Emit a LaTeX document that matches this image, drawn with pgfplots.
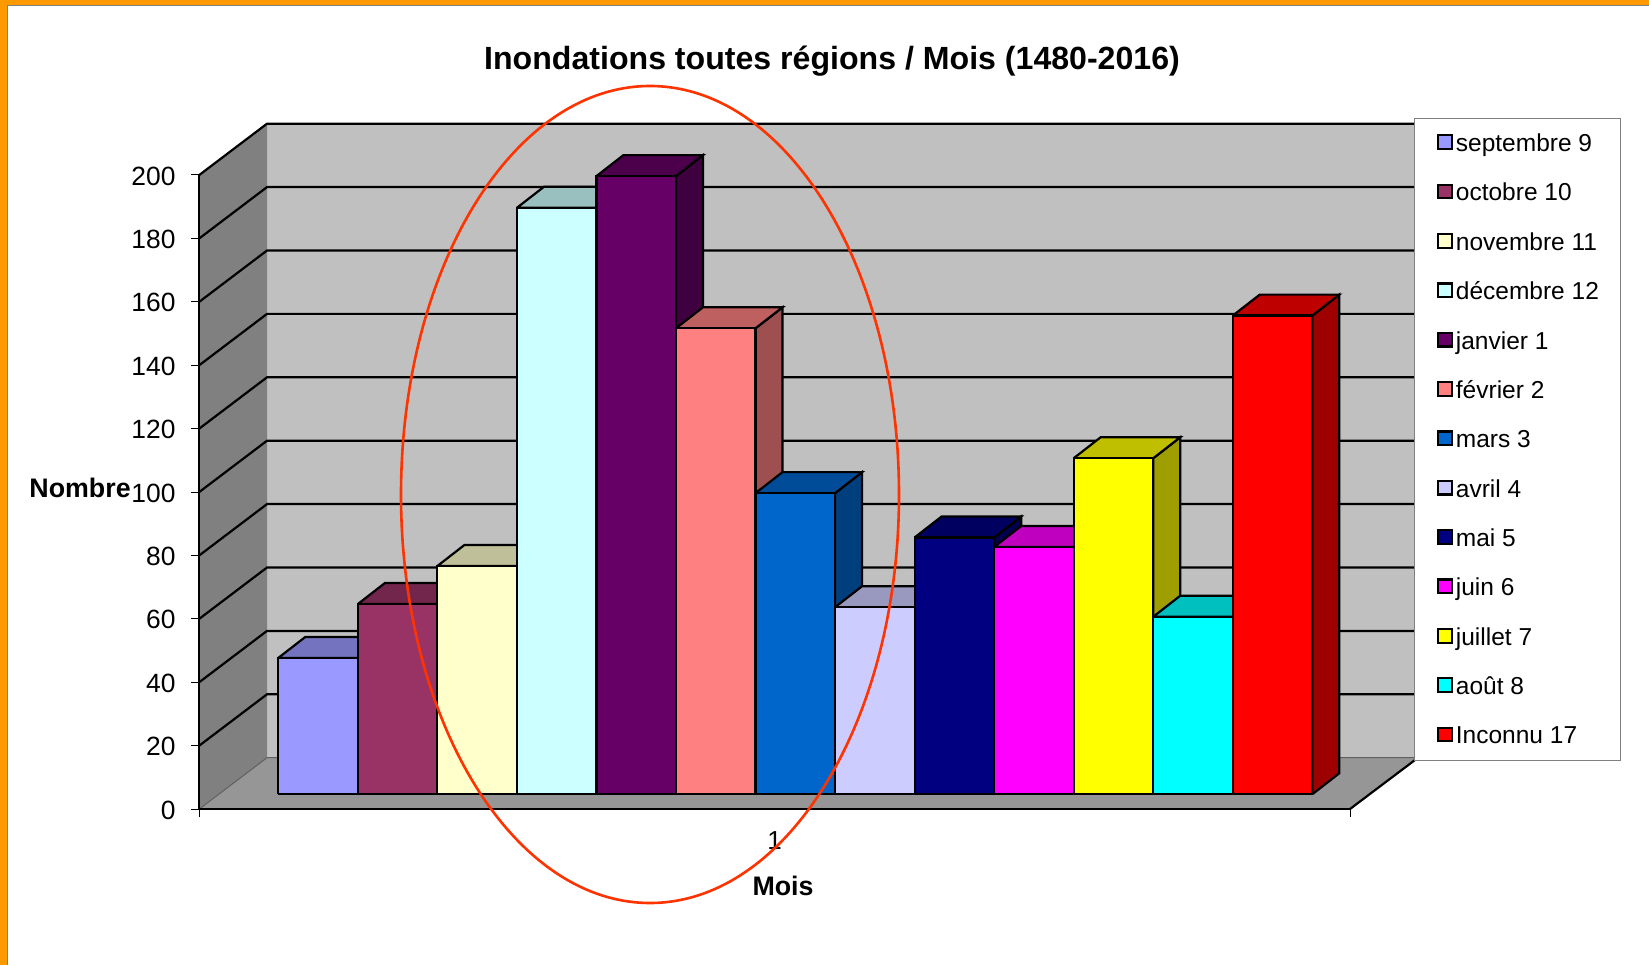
\documentclass[border=0pt]{standalone}
\usepackage{fontspec}
\setmainfont{Liberation Sans}
\usepackage{pgfplots}
\pgfplotsset{compat=1.18}
\definecolor{c0}{HTML}{9999FF}
\definecolor{c1}{HTML}{993366}
\definecolor{c2}{HTML}{FFFFCC}
\definecolor{c3}{HTML}{CCFFFF}
\definecolor{c4}{HTML}{660066}
\definecolor{c5}{HTML}{FF8080}
\definecolor{c6}{HTML}{0066CC}
\definecolor{c7}{HTML}{CCCCFF}
\definecolor{c8}{HTML}{000080}
\definecolor{c9}{HTML}{FF00FF}
\definecolor{c10}{HTML}{FFFF00}
\definecolor{c11}{HTML}{00FFFF}
\definecolor{c12}{HTML}{FF0000}
\definecolor{wallback}{HTML}{C0C0C0}
\definecolor{wallleft}{HTML}{808080}
\definecolor{wallfloor}{HTML}{969696}
\definecolor{frameorange}{HTML}{FF9900}
\definecolor{ringred}{HTML}{FF3300}
\newcommand{\dX}{0.3395}
\newcommand{\dY}{6.62}
\newcommand{\bY}{4.65}
\newcommand{\BarTD}[4]{%
  \pgfmathsetmacro\xa{#1}%
  \pgfmathsetmacro\xb{#1+1}%
  \pgfmathsetmacro\xc{#1+1+\dX}%
  \pgfmathsetmacro\xd{#1+\dX}%
  \pgfmathsetmacro\ya{\bY}%
  \pgfmathsetmacro\yb{\bY+#2}%
  \pgfmathsetmacro\yc{\bY+#2+\dY}%
  \pgfmathsetmacro\yd{\bY+\dY}%
  \edef\tmp{\noexpand\addplot[forget plot,draw=black,line width=1.1pt,fill=#3!62!black] coordinates {(\xb,\ya)(\xc,\yd)(\xc,\yc)(\xb,\yb)(\xb,\ya)};}\tmp
  \edef\tmp{\noexpand\addplot[forget plot,draw=black,line width=1.1pt,fill=#3!75!black] coordinates {(\xa,\yb)(\xb,\yb)(\xc,\yc)(\xd,\yc)(\xa,\yb)};}\tmp
  \edef\tmp{\noexpand\addplot[draw=black,line width=1.1pt,fill=#3] coordinates {(\xa,\ya)(\xb,\ya)(\xb,\yb)(\xa,\yb)(\xa,\ya)};}\tmp
  \addlegendentry{#4}%
}
\begin{document}
\begin{tikzpicture}
\useasboundingbox (0,0) rectangle (824.5pt,482.5pt);
\begin{scope}[shift={(0,482.5pt)},x=0.5pt,y=-0.5pt]
  \fill[white] (0,0) rectangle (1649,965);
  \fill[frameorange] (0,0) rectangle (1649,5.5);
  \fill[frameorange] (0,0) rectangle (7.2,965);
  \draw[gray,line width=0.4pt] (7.6,965) -- (7.6,5.9) -- (1649,5.9);
  % walls
  \fill[wallback] (267,123.7) rectangle (1416,757.7);
  \fill[wallleft] (199.3,175) -- (267,123.7) -- (267,757.7) -- (199.3,809) -- cycle;
  \fill[wallfloor] (199.3,809) -- (267,757.7) -- (1418,757.7) -- (1350,809) -- cycle;
  \draw[gray!75!black,line width=0.5pt] (199.3,809) -- (267,757.7) -- (1416,757.7);
  \foreach \v in {20,40,...,200}{
    \pgfmathsetmacro\ya{809-3.17*\v}
    \pgfmathsetmacro\yb{757.7-3.17*\v}
    \draw[black,line width=1.1pt] (199.3,\ya) -- (267,\yb) -- (1416,\yb);
  }
  \draw[black,line width=1.1pt] (1350,809) -- (1418,757.7);
\end{scope}
\begin{axis}[
  at={(99.65pt,78pt)},anchor=south west,
  scale only axis,width=575.35pt,height=317pt,
  xmin=-0.9932,xmax=13.474,ymin=0,ymax=200,
  clip=false,
  axis x line=bottom,axis y line=left,
  axis line style={-,line width=1.1pt,black},
  tick align=outside,major tick length=4pt,
  every tick/.style={black,line width=0.5pt},
  xtick={-0.9932,13.474},xticklabels={,},
  extra x ticks={6.24},extra x tick labels={1},
  extra x tick style={major tick length=0pt},
  ytick={0,20,...,200},
  /pgf/number format/assume math mode=true,
  tick label style={font=\fontsize{13.2pt}{15pt}\selectfont,black},
  yticklabel style={inner sep=0pt,xshift=-7.7pt,yshift=-0.5pt},
  xticklabel style={font=\fontsize{13pt}{15pt}\selectfont,yshift=-8pt},
  xlabel={Mois},ylabel={Nombre},
  every axis x label/.style={at={(axis description cs:0.5073,-0.1207)},anchor=center,font=\fontsize{13.4pt}{15pt}\selectfont\bfseries},
  every axis y label/.style={at={(axis description cs:-0.1036,0.506)},anchor=center,rotate=0,font=\fontsize{13.4pt}{15pt}\selectfont\bfseries},
  legend image code/.code={\draw[#1] (0pt,1.3pt) rectangle (6.85pt,8.15pt);},
  legend cell align=left,
  legend style={at={(axis description cs:1.0559,1.0894)},anchor=north west,
    draw=gray,line width=0.5pt,fill=white,
    font=\fontsize{12.25pt}{14pt}\selectfont,
    inner xsep=11pt,inner ysep=6.4pt,
    row sep=12.68pt,column sep=1.6pt,
    nodes={inner sep=0pt,text height=10pt,text depth=2pt,anchor=base west}},
]
\BarTD{0}{43}{c0}{septembre 9}
\BarTD{1}{60}{c1}{octobre 10}
\BarTD{2}{72}{c2}{novembre 11}
\BarTD{3}{185}{c3}{décembre 12}
\BarTD{4}{195}{c4}{janvier 1}
\BarTD{5}{147}{c5}{février 2}
\BarTD{6}{95}{c6}{mars 3}
\BarTD{7}{59}{c7}{avril 4}
\BarTD{8}{81}{c8}{mai 5}
\BarTD{9}{78}{c9}{juin 6}
\BarTD{10}{106}{c10}{juillet 7}
\BarTD{11}{56}{c11}{août 8}
\BarTD{12}{151}{c12}{Inconnu 17}
\end{axis}
\begin{scope}[shift={(0,482.5pt)},x=0.5pt,y=-0.5pt]
  \draw[ringred,line width=1.3pt] (650,494.5) ellipse [x radius=249,y radius=408.5];
  \node[font=\fontsize{16.05pt}{18pt}\selectfont\bfseries,inner sep=0pt,anchor=center] at (832,61) {Inondations toutes régions / Mois (1480-2016)};
\end{scope}
\end{tikzpicture}
\end{document}
